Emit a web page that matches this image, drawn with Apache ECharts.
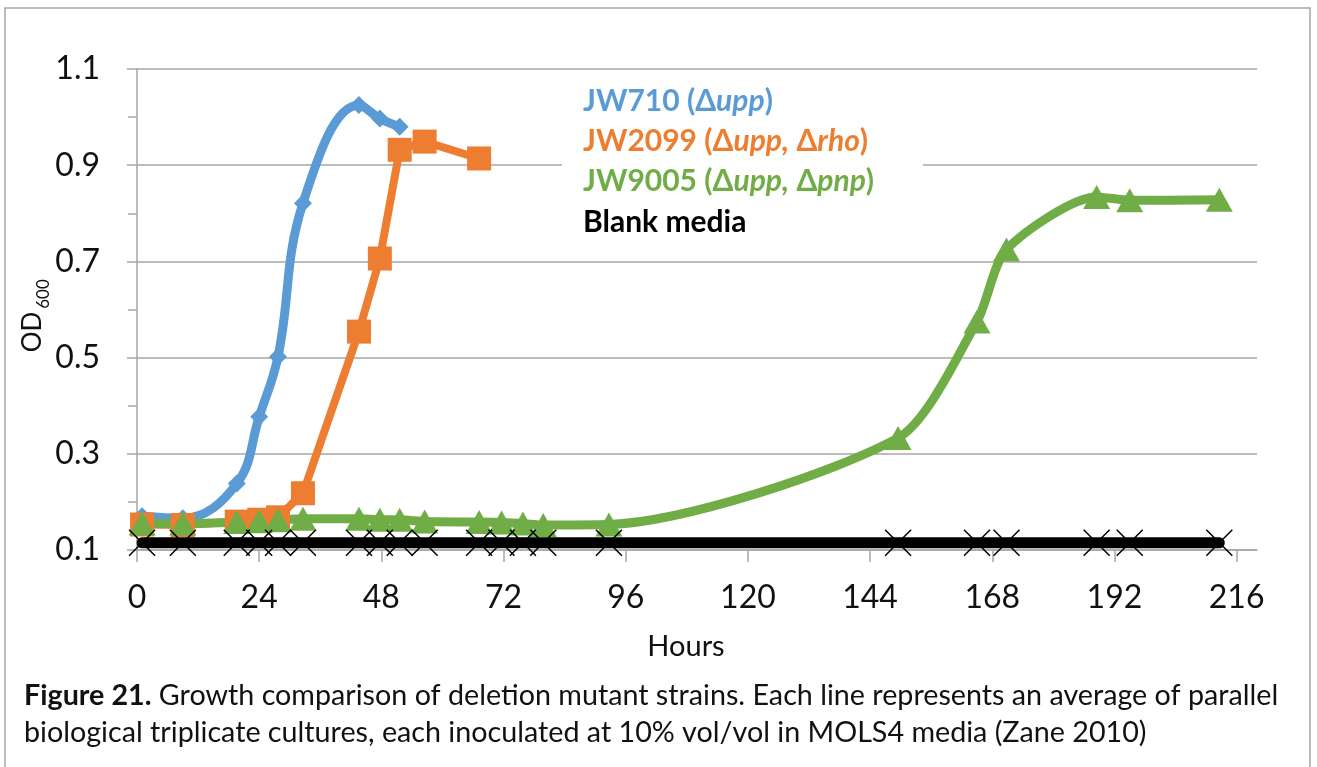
<!DOCTYPE html>
<html>
<head>
<meta charset="utf-8">
<script src="https://cdn.jsdelivr.net/npm/echarts@6/dist/echarts.min.js"></script>
<style>
  html, body { margin: 0; padding: 0; background: #fff; }
  #chart { width: 1317px; height: 767px; }
</style>
</head>
<body>
<div id="chart"></div>
<script>
// sampling times (hours), shared by all cultures
var hours = [1, 9, 19.6, 24, 27.7, 32.6, 43.6, 47.7, 51.6, 56.5, 67.2, 71.6, 75.8, 79.8, 92.7, 149.5, 165, 170.8, 188.5, 195, 212.6];
// OD600 per culture
var jw710 = [0.17, 0.166, 0.238, 0.377, 0.502, 0.821, 1.025, 0.997, 0.98];
var jw2099 = [0.153, 0.152, 0.159, 0.163, 0.168, 0.218, 0.554, 0.706, 0.932, 0.949, 0.914];
var jw9005 = [0.155, 0.155, 0.158, 0.16, 0.162, 0.165, 0.165, 0.163, 0.163, 0.159, 0.158, 0.157, 0.155, 0.152, 0.153, 0.333, 0.575, 0.725, 0.834, 0.827, 0.828];
var blank = [0.115, 0.115, 0.115, 0.115, 0.115, 0.115, 0.115, 0.115, 0.115, 0.115, 0.115, 0.115, 0.115, 0.115, 0.115, 0.115, 0.115, 0.115, 0.115, 0.115, 0.115];
var xTicks = [0, 24, 48, 72, 96, 120, 144, 168, 192, 216];

var seriesNames = ['JW710 (Δupp)', 'JW2099 (Δupp, Δrho)', 'JW9005 (Δupp, Δpnp)', 'Blank media'];
var colors = ['#5b9bd5', '#ed7d31', '#70ad47', '#000000'];

function pairs(vals) {
  var out = [];
  for (var i = 0; i < vals.length; i++) out.push([hours[i], vals[i]]);
  return out;
}

var FONT = 'Lato';
var gray = '#a6a6a6';

function legendRich(color) {
  return {
    n: { fontFamily: FONT, fontSize: 30, fontWeight: 'bold', fill: color },
    i: { fontFamily: FONT, fontSize: 30, fontWeight: 'bold', fontStyle: 'italic', fill: color }
  };
}

var chart = echarts.init(document.getElementById('chart'));

var option = {
  animation: false,
  backgroundColor: '#fff',
  grid: { left: 137, right: 60, top: 69, bottom: 217 },
  xAxis: {
    type: 'value',
    min: 0,
    max: 220,
    interval: 24,
    axisLine: { show: true, lineStyle: { color: gray, width: 1.5 } },
    axisTick: { show: true, length: 12, lineStyle: { color: gray, width: 1.5 }, customValues: xTicks },
    axisLabel: { fontFamily: FONT, fontSize: 32, color: '#111', margin: 32, customValues: xTicks },
    splitLine: { show: false }
  },
  yAxis: {
    type: 'value',
    min: 0.1,
    max: 1.1,
    interval: 0.2,
    axisLine: { show: true, lineStyle: { color: gray, width: 1.5 } },
    axisTick: { show: true, length: 10, lineStyle: { color: gray, width: 1.5 } },
    minorTick: { show: true, splitNumber: 2, length: 9, lineStyle: { color: gray, width: 1.5 } },
    axisLabel: {
      fontFamily: FONT, fontSize: 32, color: '#111', margin: 37,
      formatter: function (v) { return v.toFixed(1); }
    },
    splitLine: { show: true, lineStyle: { color: gray, width: 1.5 } }
  },
  series: [
    {
      name: seriesNames[0], type: 'line', data: pairs(jw710), smooth: 0.4,
      symbol: 'diamond', symbolSize: 18,
      lineStyle: { color: colors[0], width: 9, cap: 'round', join: 'round' },
      itemStyle: { color: colors[0] }
    },
    {
      name: seriesNames[1], type: 'line', data: pairs(jw2099), smooth: false,
      symbol: 'rect', symbolSize: 24,
      lineStyle: { color: colors[1], width: 8, cap: 'round', join: 'round' },
      itemStyle: { color: colors[1] }
    },
    {
      name: seriesNames[2], type: 'line', data: pairs(jw9005), smooth: 0.25,
      symbol: 'triangle', symbolSize: [27, 24],
      lineStyle: { color: colors[2], width: 9, cap: 'round', join: 'round' },
      itemStyle: { color: colors[2] }
    },
    {
      name: seriesNames[3], type: 'line', data: pairs(blank), smooth: false,
      symbol: 'path://M0,0L10,10M10,0L0,10', symbolSize: 26,
      lineStyle: { color: colors[3], width: 11, cap: 'round', join: 'round' },
      itemStyle: { color: '#000', borderColor: '#000', borderWidth: 1.5 }
    }
  ],
  graphic: [
    { type: 'rect', z: 0, shape: { x: 5, y: 8, width: 1305, height: 780 },
      style: { fill: 'none', stroke: gray, lineWidth: 1.5 } },
    { type: 'rect', z: 50, shape: { x: 562, y: 80, width: 361, height: 165 },
      style: { fill: '#fff' } },
    { type: 'text', z: 60, x: 583, y: 101,
      style: { text: '{n|JW710 (Δ}{i|upp}{n|)}', rich: legendRich(colors[0]), verticalAlign: 'middle' } },
    { type: 'text', z: 60, x: 583, y: 141,
      style: { text: '{n|JW2099 (Δ}{i|upp,}{n| Δ}{i|rho}{n|)}', rich: legendRich(colors[1]), verticalAlign: 'middle' } },
    { type: 'text', z: 60, x: 583, y: 181,
      style: { text: '{n|JW9005 (Δ}{i|upp,}{n| Δ}{i|pnp}{n|)}', rich: legendRich(colors[2]), verticalAlign: 'middle' } },
    { type: 'text', z: 60, x: 583, y: 222,
      style: { text: '{n|Blank media}', rich: legendRich('#000'), verticalAlign: 'middle' } },
    { type: 'text', z: 60, x: 32.5, y: 332, rotation: Math.PI / 2,
      style: { text: 'OD', fontFamily: FONT, fontSize: 26, fill: '#111', align: 'center', verticalAlign: 'middle' } },
    { type: 'text', z: 60, x: 44, y: 294, rotation: Math.PI / 2,
      style: { text: '600', fontFamily: FONT, fontSize: 17, fill: '#111', align: 'center', verticalAlign: 'middle' } },
    { type: 'text', z: 60, x: 686, y: 647,
      style: { text: 'Hours', fontFamily: FONT, fontSize: 29, fill: '#111', align: 'center', verticalAlign: 'middle' } },
    { type: 'text', z: 60, x: 24, y: 696,
      style: {
        text: '{b|Figure 21.}{r| Growth comparison of deletion mutant strains. Each line represents an average of parallel}',
        verticalAlign: 'middle',
        rich: {
          b: { fontFamily: FONT, fontSize: 28.7, fontWeight: 'bold', fill: '#111' },
          r: { fontFamily: FONT, fontSize: 28.7, fill: '#111' }
        }
      } },
    { type: 'text', z: 60, x: 24, y: 733,
      style: {
        text: 'biological triplicate cultures, each inoculated at 10% vol/vol in MOLS4 media (Zane 2010)',
        fontFamily: FONT, fontSize: 28.7, fill: '#111', verticalAlign: 'middle'
      } }
  ]
};

chart.setOption(option);
</script>
</body>
</html>
